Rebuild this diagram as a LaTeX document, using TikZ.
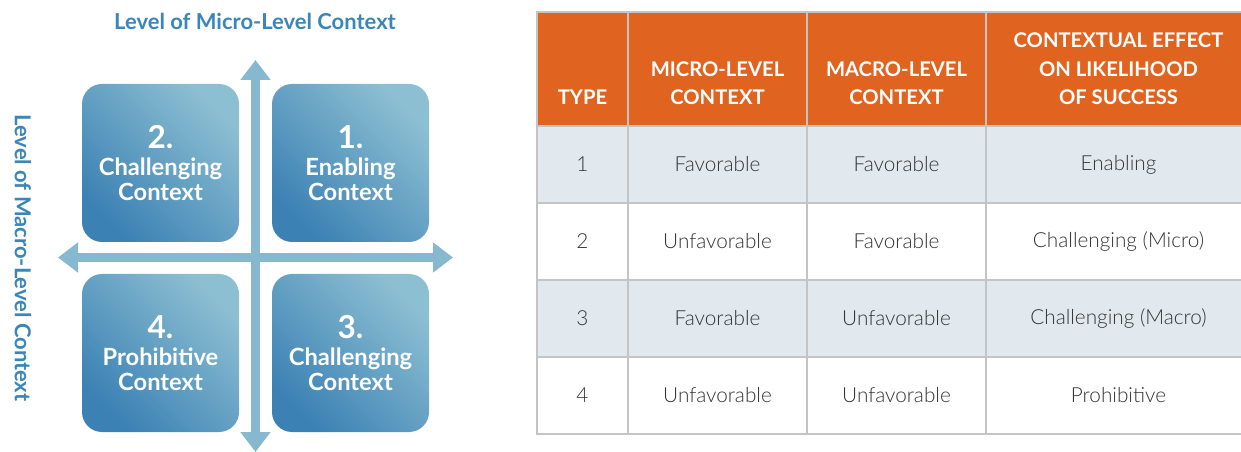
\documentclass[tikz,border=0pt]{standalone}
\usepackage{fontspec}
\setmainfont{Lato}
\newfontfamily\lightfont{Lato Light}
\usetikzlibrary{positioning}
\usetikzlibrary{arrows.meta,calc}
\definecolor{axisblue}{HTML}{86B9CF}
\definecolor{boxdark}{HTML}{3B81B4}
\definecolor{boxlight}{HTML}{8DBFD2}
\definecolor{labelblue}{HTML}{3A86B8}
\definecolor{headorange}{HTML}{E0631F}
\definecolor{rowblue}{HTML}{E1E9EF}
\definecolor{gridgray}{HTML}{C4C4C4}
\definecolor{bodytext}{HTML}{333333}
\newcommand{\rowheight}{1.54cm}
\newcommand{\titlerowheight}{2.28cm}

\begin{document}
\begin{tikzpicture}[node distance=0 cm,outer sep = 0pt]
\tikzstyle{quad}=[
                  rectangle,
                  rounded corners=0.4cm,
                  minimum width=3.14cm,
                  minimum height=3.16cm,
                  top color=boxlight,
                  middle color=boxdark,
                  bottom color=boxdark,
                  shading angle=-45,
                  text=white,
                  align=center,
                  font=\bfseries\fontsize{13.5}{14.2}\selectfont]

\tikzstyle{axislabel}=[
                  text=labelblue,
                  font=\bfseries\fontsize{12.5}{14}\selectfont]

\tikzstyle{headcell}=[
                  draw=gridgray,
                  line width=0.8pt,
                  rectangle,
                  minimum height=\titlerowheight,
                  fill=headorange,
                  anchor=north west]

\tikzstyle{headtext}=[
                  text=white,
                  inner sep=0pt,
                  align=center,
                  font=\bfseries\fontsize{11.5}{16.4}\selectfont]

\tikzstyle{bodycell}=[
                  draw=gridgray,
                  line width=0.8pt,
                  rectangle,
                  minimum height=\rowheight,
                  text=bodytext,
                  font=\lightfont\fontsize{11.8}{14}\selectfont,
                  anchor=north west]

\useasboundingbox (0,0) rectangle (24.82,-9.04);

% axes of the quadrant chart
\coordinate (vtop)   at (5.11,-1.20);
\coordinate (vbot)   at (5.11,-9.04);
\coordinate (hleft)  at (1.16,-5.15);
\coordinate (hright) at (9.06,-5.15);
\draw [{Triangle[width=0.58cm,length=0.40cm]}-{Triangle[width=0.58cm,length=0.40cm]},line width=0.18cm,axisblue] (vbot) -- (vtop);
\draw [{Triangle[width=0.58cm,length=0.40cm]}-{Triangle[width=0.58cm,length=0.40cm]},line width=0.18cm,axisblue] (hleft) -- (hright);

\node[axislabel] (microlabel) at (5.10,-0.42) {Level of Micro-Level Context};
\node[axislabel, rotate=-90] (macrolabel) at (0.46,-5.16) {Level of Macro-Level Context};

\node[quad] (challmicro) at (3.21,-3.26) {{\fontsize{18}{20}\selectfont 2.}\\[1.5pt]Challenging\\Context};
\node[quad] (enabling) [right = 0.66cm of challmicro] {{\fontsize{18}{20}\selectfont 1.}\\[1.5pt]Enabling\\Context};
\node[quad] (prohibit) [below = 0.64cm of challmicro] {{\fontsize{18}{20}\selectfont 4.}\\[1.5pt]Prohibitive\\Context};
\node[quad] (challmacro) [right = 0.66cm of prohibit] {{\fontsize{18}{20}\selectfont 3.}\\[1.5pt]Challenging\\Context};

% table header
\node[headcell] (typehead)  at(10.74,-0.24) [minimum width=1.82cm] {};
\node[headcell] (microhead) [right = of typehead, minimum width=3.58cm]  {};
\node[headcell] (macrohead) [right = of microhead, minimum width=3.58cm] {};
\node[headcell] (effecthead) [right = of macrohead, minimum width=5.30cm] {};

\node[headtext, anchor=south] (typetext)   [above = 0.42cm of typehead.south]   {TYPE};
\node[headtext, anchor=south] (microtext)  [above = 0.42cm of microhead.south]  {MICRO-LEVEL\\CONTEXT};
\node[headtext, anchor=south] (macrotext)  [above = 0.42cm of macrohead.south]  {MACRO-LEVEL\\CONTEXT};
\node[headtext, anchor=south] (effecttext) [above = 0.42cm of effecthead.south] {CONTEXTUAL EFFECT\\ON LIKELIHOOD\\OF SUCCESS};

% table rows
\node[bodycell, fill=rowblue] (type1) [below = of typehead.south west, anchor=north west, minimum width=1.82cm] {1};
\node[bodycell, fill=rowblue] (micro1) [right = of type1, minimum width=3.58cm]   {Favorable};
\node[bodycell, fill=rowblue] (macro1) [right = of micro1, minimum width=3.58cm]  {Favorable};
\node[bodycell, fill=rowblue] (effect1) [right = of macro1, minimum width=5.30cm] {Enabling};

\node[bodycell, fill=white] (type2) [below = of type1.south west, anchor=north west, minimum width=1.82cm] {2};
\node[bodycell, fill=white] (micro2) [right = of type2, minimum width=3.58cm]   {Unfavorable};
\node[bodycell, fill=white] (macro2) [right = of micro2, minimum width=3.58cm]  {Favorable};
\node[bodycell, fill=white] (effect2) [right = of macro2, minimum width=5.30cm] {Challenging (Micro)};

\node[bodycell, fill=rowblue] (type3) [below = of type2.south west, anchor=north west, minimum width=1.82cm] {3};
\node[bodycell, fill=rowblue] (micro3) [right = of type3, minimum width=3.58cm]   {Favorable};
\node[bodycell, fill=rowblue] (macro3) [right = of micro3, minimum width=3.58cm]  {Unfavorable};
\node[bodycell, fill=rowblue] (effect3) [right = of macro3, minimum width=5.30cm] {Challenging (Macro)};

\node[bodycell, fill=white] (type4) [below = of type3.south west, anchor=north west, minimum width=1.82cm] {4};
\node[bodycell, fill=white] (micro4) [right = of type4, minimum width=3.58cm]   {Unfavorable};
\node[bodycell, fill=white] (macro4) [right = of micro4, minimum width=3.58cm]  {Unfavorable};
\node[bodycell, fill=white] (effect4) [right = of macro4, minimum width=5.30cm] {Prohibitive};

\end{tikzpicture}
\end{document}
